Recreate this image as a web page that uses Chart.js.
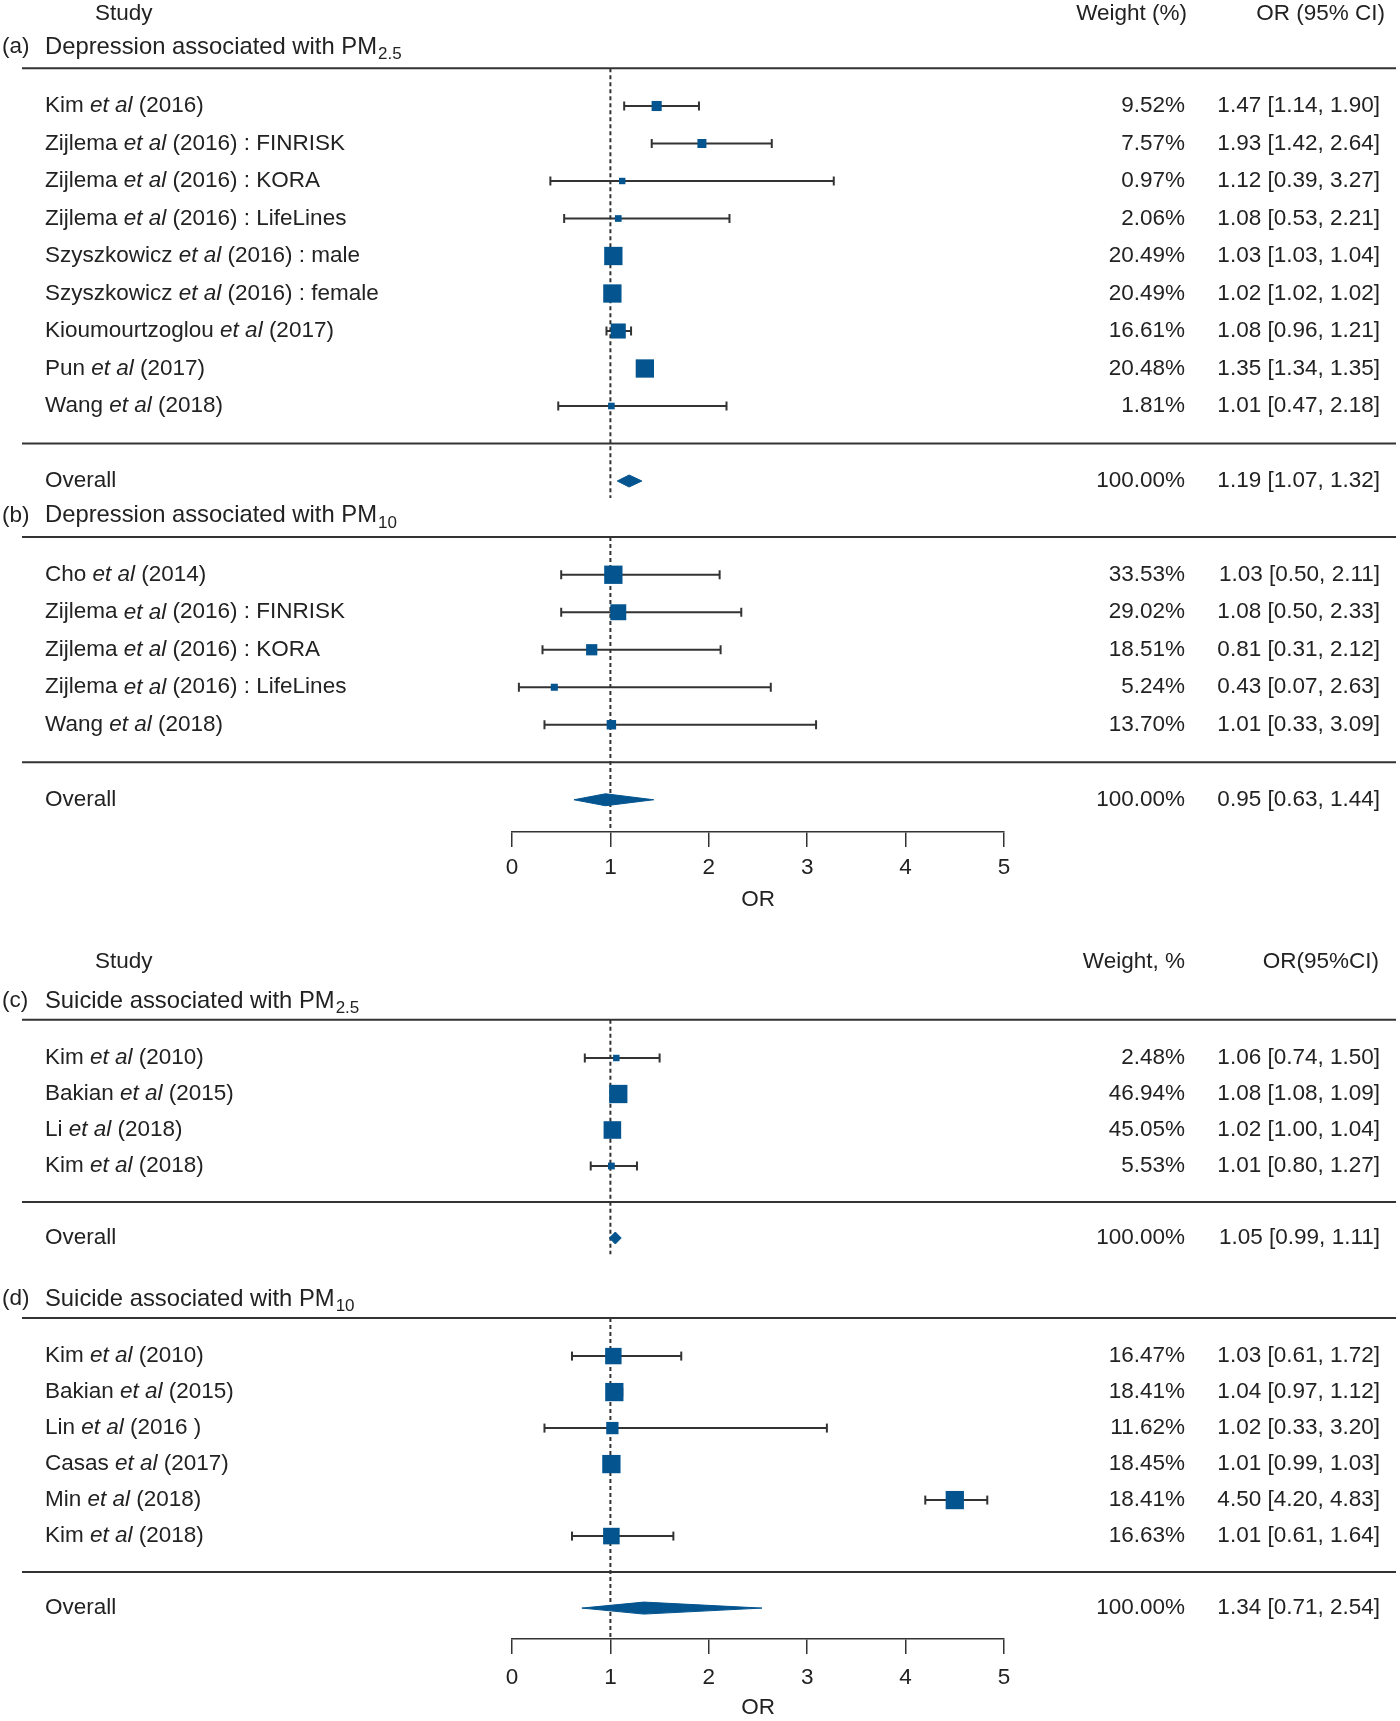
<!DOCTYPE html>
<html>
<head>
<meta charset="utf-8">
<script src="https://cdn.jsdelivr.net/npm/chart.js"></script>
<style>
  html, body { margin: 0; padding: 0; background: #fff; }
  #wrap { position: relative; width: 1400px; height: 1721px; }
  canvas { position: absolute; left: 0; }
</style>
</head>
<body>
<div id="wrap">
  <canvas id="topChart" width="1400" height="915" style="top:0px"></canvas>
  <canvas id="bottomChart" width="1400" height="806" style="top:915px"></canvas>
</div>
<script>
// (a) depression / PM2.5
const authorsA = ['Kim', 'Zijlema', 'Zijlema', 'Zijlema', 'Szyszkowicz', 'Szyszkowicz', 'Kioumourtzoglou', 'Pun', 'Wang'];
const suffixA = ['(2016)', '(2016) : FINRISK', '(2016) : KORA', '(2016) : LifeLines', '(2016) : male', '(2016) : female', '(2017)', '(2017)', '(2018)'];
const weightA = [9.52, 7.57, 0.97, 2.06, 20.49, 20.49, 16.61, 20.48, 1.81];
const orA = [1.47, 1.93, 1.12, 1.08, 1.03, 1.02, 1.08, 1.35, 1.01];
const lowA = [1.14, 1.42, 0.39, 0.53, 1.03, 1.02, 0.96, 1.34, 0.47];
const highA = [1.90, 2.64, 3.27, 2.21, 1.04, 1.02, 1.21, 1.35, 2.18];
const overallA = [1.19, 1.07, 1.32];

// (b) depression / PM10
const authorsB = ['Cho', 'Zijlema', 'Zijlema', 'Zijlema', 'Wang'];
const suffixB = ['(2014)', '(2016) : FINRISK', '(2016) : KORA', '(2016) : LifeLines', '(2018)'];
const weightB = [33.53, 29.02, 18.51, 5.24, 13.70];
const orB = [1.03, 1.08, 0.81, 0.43, 1.01];
const lowB = [0.50, 0.50, 0.31, 0.07, 0.33];
const highB = [2.11, 2.33, 2.12, 2.63, 3.09];
const overallB = [0.95, 0.63, 1.44];

// (c) suicide / PM2.5
const authorsC = ['Kim', 'Bakian', 'Li', 'Kim'];
const suffixC = ['(2010)', '(2015)', '(2018)', '(2018)'];
const weightC = [2.48, 46.94, 45.05, 5.53];
const orC = [1.06, 1.08, 1.02, 1.01];
const lowC = [0.74, 1.08, 1.00, 0.80];
const highC = [1.50, 1.09, 1.04, 1.27];
const overallC = [1.05, 0.99, 1.11];

// (d) suicide / PM10
const authorsD = ['Kim', 'Bakian', 'Lin', 'Casas', 'Min', 'Kim'];
const suffixD = ['(2010)', '(2015)', '(2016 )', '(2017)', '(2018)', '(2018)'];
const weightD = [16.47, 18.41, 11.62, 18.45, 18.41, 16.63];
const orD = [1.03, 1.04, 1.02, 1.01, 4.50, 1.01];
const lowD = [0.61, 0.97, 0.33, 0.99, 4.20, 0.61];
const highD = [1.72, 1.12, 3.20, 1.03, 4.83, 1.64];
const overallD = [1.34, 0.71, 2.54];

const xTicks = [0, 1, 2, 3, 4, 5];

const BLUE = '#03548f';
const INK = '#222222';
const RULE = '#333333';
const FONT = '"Liberation Sans", Arial, sans-serif';
const FS = 22.5;
const TITLE_FS = 23.8;
const SUB_FS = 17;
const WEIGHT_X = 1185;
const CI_X = 1380;

const panelsTop = [
  { tag: '(a)', title: 'Depression associated with PM', sub: '2.5', authors: authorsA, suffix: suffixA, weight: weightA, or: orA, low: lowA, high: highA, overall: overallA },
  { tag: '(b)', title: 'Depression associated with PM', sub: '10', authors: authorsB, suffix: suffixB, weight: weightB, or: orB, low: lowB, high: highB, overall: overallB }
];
const panelsBottom = [
  { tag: '(c)', title: 'Suicide associated with PM', sub: '2.5', authors: authorsC, suffix: suffixC, weight: weightC, or: orC, low: lowC, high: highC, overall: overallC },
  { tag: '(d)', title: 'Suicide associated with PM', sub: '10', authors: authorsD, suffix: suffixD, weight: weightD, or: orD, low: lowD, high: highD, overall: overallD }
];

function layoutPanels(panels, opt) {
  let first = 0;
  let prevOverall = 0;
  return panels.map((p, i) => {
    if (i > 0) first = prevOverall + opt.gap;
    const rows = p.or.map((_, k) => first + k);
    const sepRow = first + p.or.length;
    const overallRow = sepRow + 1;
    prevOverall = overallRow;
    return Object.assign({}, p, { titleRow: first + opt.titleOff, lineRow: first + opt.lineOff, rows, sepRow, overallRow });
  });
}

function fmt(v) { return v.toFixed(2); }

function drawStudy(ctx, x, y, author, suffix) {
  ctx.textAlign = 'left';
  ctx.font = FS + 'px ' + FONT;
  ctx.fillText(author + ' ', x, y);
  let dx = ctx.measureText(author + ' ').width;
  ctx.font = 'italic ' + FS + 'px ' + FONT;
  ctx.fillText('et al', x + dx, y);
  dx += ctx.measureText('et al').width;
  ctx.font = FS + 'px ' + FONT;
  ctx.fillText(' ' + suffix, x + dx, y);
}

function hline(ctx, y) {
  ctx.save();
  ctx.strokeStyle = RULE;
  ctx.lineWidth = 2;
  ctx.beginPath();
  ctx.moveTo(22, y);
  ctx.lineTo(1396, y);
  ctx.stroke();
  ctx.restore();
}

function makeForest(canvasId, panels, opt) {
  const laid = layoutPanels(panels, opt);
  const datasets = [];

  laid.forEach((p, pi) => {
    const end = pi === laid.length - 1 ? opt.yMax : p.overallRow + 0.45;
    datasets.push({
      showLine: true, data: [{ x: 1, y: p.lineRow }, { x: 1, y: end }],
      borderColor: RULE, borderWidth: 2, borderDash: [4, 3], pointRadius: 0, order: 3
    });
    p.or.forEach((v, k) => {
      datasets.push({
        showLine: true, data: [{ x: p.low[k], y: p.rows[k] }, { x: p.high[k], y: p.rows[k] }],
        borderColor: RULE, borderWidth: 2,
        pointStyle: 'line', pointRotation: 90, pointRadius: 4.5,
        pointBorderWidth: 2, pointBorderColor: RULE, order: 2
      });
    });
    const wmax = Math.max(...p.weight);
    datasets.push({
      data: p.or.map((v, k) => ({ x: v, y: p.rows[k] })),
      pointStyle: 'rect',
      pointRadius: p.weight.map(w => (6.3 + 12 * Math.pow(w / wmax, 1.5)) / Math.SQRT2),
      pointBackgroundColor: BLUE, pointBorderWidth: 0, order: 0
    });
    const est = p.overall[0], lo = p.overall[1], hi = p.overall[2];
    const h = 6 / opt.unit;
    const r = p.overallRow;
    datasets.push({
      showLine: true, fill: 'shape',
      data: [{ x: lo, y: r }, { x: est, y: r - h }, { x: hi, y: r }, { x: est, y: r + h }, { x: lo, y: r }],
      backgroundColor: BLUE, borderColor: BLUE, borderWidth: 1, pointRadius: 0, order: 1
    });
  });

  const textPlugin = {
    id: 'forestText',
    afterDraw(chart) {
      const ctx = chart.ctx;
      const ys = chart.scales.y;
      const py = v => ys.getPixelForValue(v);
      ctx.save();
      ctx.fillStyle = INK;
      ctx.textBaseline = 'middle';
      ctx.font = FS + 'px ' + FONT;

      const hy = py(laid[0].rows[0] + opt.headerOffset);
      ctx.textAlign = 'left';
      ctx.fillText('Study', 95, hy);
      ctx.textAlign = 'right';
      ctx.fillText(opt.weightHead, opt.weightHeadX, hy);
      ctx.fillText(opt.ciHead, opt.ciHeadX, hy);

      laid.forEach(p => {
        const ty = py(p.titleRow);
        ctx.textAlign = 'left';
        ctx.font = FS + 'px ' + FONT;
        ctx.fillText(p.tag, 2, ty);
        ctx.font = TITLE_FS + 'px ' + FONT;
        ctx.fillText(p.title, 45, ty);
        const tw = ctx.measureText(p.title).width;
        ctx.font = SUB_FS + 'px ' + FONT;
        ctx.fillText(p.sub, 45 + tw + 1, ty + 7);

        hline(ctx, py(p.lineRow));
        hline(ctx, py(p.sepRow));

        ctx.font = FS + 'px ' + FONT;
        p.rows.forEach((rw, k) => {
          const y = py(rw);
          drawStudy(ctx, 45, y, p.authors[k], p.suffix[k]);
          ctx.textAlign = 'right';
          ctx.fillText(fmt(p.weight[k]) + '%', WEIGHT_X, y);
          ctx.fillText(fmt(p.or[k]) + ' [' + fmt(p.low[k]) + ', ' + fmt(p.high[k]) + ']', CI_X, y);
        });

        const oy = py(p.overallRow);
        ctx.font = FS + 'px ' + FONT;
        ctx.textAlign = 'left';
        ctx.fillText('Overall', 45, oy);
        ctx.textAlign = 'right';
        const wsum = p.weight.reduce((a, b) => a + b, 0);
        ctx.fillText((Math.round(wsum / 10) * 10).toFixed(2) + '%', WEIGHT_X, oy);
        ctx.fillText(fmt(p.overall[0]) + ' [' + fmt(p.overall[1]) + ', ' + fmt(p.overall[2]) + ']', CI_X, oy);
      });
      ctx.restore();
    }
  };

  return new Chart(document.getElementById(canvasId), {
    type: 'scatter',
    data: { datasets },
    options: {
      responsive: false,
      animation: false,
      events: [],
      layout: { autoPadding: false, padding: { left: 512, right: 396, top: 0, bottom: 0 } },
      plugins: { legend: { display: false }, tooltip: { enabled: false } },
      scales: {
        x: {
          type: 'linear', min: 0, max: 5, position: 'bottom',
          afterBuildTicks: s => { s.ticks = xTicks.map(v => ({ value: v })); },
          afterFit: s => { s.height = opt.axisHeight; },
          ticks: { color: INK, font: { family: FONT, size: FS }, padding: opt.tickPad, maxRotation: 0, autoSkip: false },
          grid: { drawOnChartArea: false, drawTicks: true, tickLength: 15, color: RULE, lineWidth: 1.5 },
          border: { display: true, color: RULE, width: 1.5 },
          title: { display: true, text: 'OR', color: INK, font: { family: FONT, size: FS }, padding: { top: 4, bottom: opt.titlePad } }
        },
        y: { type: 'linear', reverse: true, min: opt.yMin, max: opt.yMax, display: false }
      }
    },
    plugins: [textPlugin]
  });
}

// top half: row unit 37.5 px, first study row at 106 px, axis at 832 px
makeForest('topChart', panelsTop, {
  unit: 37.5, gap: 2.5, yMin: -106 / 37.5, yMax: (832 - 106) / 37.5,
  titleOff: -1.57, lineOff: -1.01,
  axisHeight: 915 - 832, tickPad: 7, titlePad: 2, headerOffset: -2.45,
  weightHead: 'Weight (%)', weightHeadX: 1187, ciHead: 'OR (95% CI)', ciHeadX: 1385
});

// bottom half (canvas starts at 915): row unit 36 px, first row at 143 px local, axis at 724 px local
makeForest('bottomChart', panelsBottom, {
  unit: 36, gap: 3.28, yMin: -143 / 36, yMax: (724 - 143) / 36,
  titleOff: -1.58, lineOff: -1.06,
  axisHeight: 806 - 724, tickPad: 10, titlePad: 0, headerOffset: -2.68,
  weightHead: 'Weight, %', weightHeadX: 1185, ciHead: 'OR(95%CI)', ciHeadX: 1379
});
</script>
</body>
</html>
